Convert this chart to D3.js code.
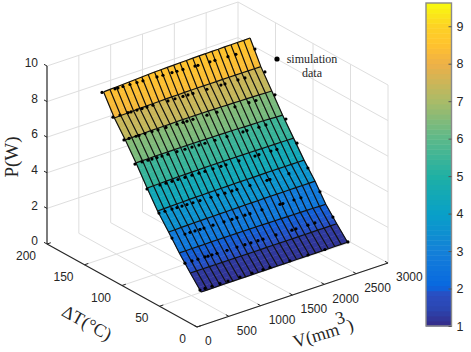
<!DOCTYPE html>
<html>
<head>
<meta charset="utf-8">
<script src="https://cdn.jsdelivr.net/npm/d3@7"></script>
<style>
  html, body { margin: 0; background: #fff; }
  svg { display: block; }
  text { font-family: "Liberation Sans", Arial, sans-serif; font-size: 12px; fill: #262626; }
  .serif { font-family: "Liberation Serif", "Times New Roman", serif; }
</style>
</head>
<body>
<div id="chart"></div>
<script>
// axis ticks
const vTicks = [0, 500, 1000, 1500, 2000, 2500, 3000];
const dtTicks = [0, 50, 100, 150, 200];
const pTicks = [0, 2, 4, 6, 8, 10];
const barTicks = [1, 2, 3, 4, 5, 6, 7, 8, 9];

// fitted surface: one row of P per dT, one column per V
const gridV = [300, 400, 500, 600, 700, 800, 900, 1000, 1100, 1200, 1300, 1400, 1500, 1600, 1700, 1800, 1900, 2000, 2100, 2200, 2300, 2400, 2500, 2600];
const gridDT = [20, 34.4, 49, 63.3, 78, 92, 106.7, 121, 135.6, 150];
const gridP = [
  [1.14,1.14,1.14,1.15,1.15,1.15,1.15,1.15,1.15,1.16,1.16,1.16,1.16,1.16,1.16,1.17,1.17,1.17,1.17,1.17,1.17,1.18,1.18,1.18],
  [1.87,1.87,1.87,1.87,1.87,1.87,1.87,1.87,1.87,1.87,1.87,1.87,1.87,1.87,1.87,1.87,1.87,1.88,1.88,1.88,1.88,1.88,1.88,1.88],
  [2.66,2.66,2.67,2.67,2.67,2.68,2.68,2.68,2.68,2.68,2.68,2.68,2.68,2.68,2.67,2.67,2.67,2.66,2.66,2.66,2.65,2.65,2.64,2.64],
  [3.50,3.51,3.52,3.53,3.54,3.54,3.55,3.55,3.56,3.56,3.57,3.57,3.58,3.58,3.58,3.59,3.59,3.59,3.59,3.60,3.60,3.60,3.60,3.60],
  [4.34,4.35,4.36,4.37,4.38,4.39,4.40,4.40,4.41,4.41,4.42,4.42,4.43,4.43,4.43,4.43,4.44,4.44,4.44,4.44,4.44,4.44,4.44,4.44],
  [5.30,5.31,5.32,5.33,5.34,5.35,5.35,5.36,5.36,5.37,5.37,5.37,5.37,5.37,5.37,5.37,5.37,5.37,5.36,5.36,5.36,5.36,5.35,5.35],
  [6.37,6.38,6.38,6.39,6.39,6.39,6.40,6.40,6.40,6.40,6.40,6.39,6.39,6.39,6.38,6.38,6.37,6.36,6.35,6.35,6.34,6.33,6.31,6.30],
  [7.33,7.34,7.35,7.36,7.37,7.37,7.38,7.38,7.39,7.39,7.39,7.39,7.39,7.39,7.38,7.38,7.37,7.37,7.36,7.36,7.35,7.34,7.33,7.32],
  [8.22,8.24,8.25,8.27,8.28,8.29,8.30,8.31,8.32,8.33,8.33,8.34,8.34,8.35,8.35,8.35,8.35,8.35,8.35,8.35,8.35,8.35,8.35,8.35],
  [9.35,9.37,9.39,9.41,9.43,9.45,9.47,9.49,9.51,9.52,9.53,9.54,9.55,9.56,9.57,9.58,9.58,9.59,9.59,9.60,9.60,9.61,9.61,9.62]
];

// simulation data, read row by row
const simDT = [150, 137, 123, 108, 92, 76, 59, 41, 21];
const simV = [
  [275,479,526,604,714,824,918,1138,1232,1374,1452,1546,1735,1782,1970,2049,2253,2378,2677],
  [294,404,530,577,671,750,828,922,1158,1268,1393,1472,1550,1770,1990,2053,2257,2367,2681],
  [302,381,491,538,632,742,836,962,1134,1229,1291,1385,1605,1762,2045,2265,2375,2673],
  [298,408,502,565,644,722,816,958,1083,1193,1303,1397,1554,1743,1994,2057,2245,2355,2669],
  [298,502,597,691,785,895,1005,1115,1209,1335,1460,1539,1743,1994,2057,2245,2339,2653],
  [298,392,502,581,659,738,832,942,1115,1225,1334,1444,1523,1727,1994,2041,2339,2637],
  [302,506,585,663,742,805,946,1119,1244,1323,1448,1527,1715,1998,2045,2218,2328,2626],
  [294,404,498,608,655,718,797,954,1111,1236,1330,1440,1519,1723,1974,2037,2225,2335,2618],
  [294,373,483,608,734,922,1111,1284,1393,1707,1990,2257,2618]
];
const simP = [
  [9.35,9.31,9.30,9.29,9.27,9.25,9.23,9.19,9.17,9.15,9.13,9.12,9.08,9.07,9.04,9.03,8.99,8.97,8.91],
  [8.24,8.23,8.21,8.20,8.19,8.18,8.17,8.16,8.12,8.11,8.09,8.08,8.07,8.04,8.01,8.00,7.98,7.96,7.92],
  [7.28,7.27,7.26,7.25,7.24,7.22,7.21,7.19,7.17,7.16,7.15,7.14,7.11,7.09,7.05,7.02,7.01,6.97],
  [6.28,6.27,6.25,6.24,6.23,6.22,6.21,6.19,6.17,6.16,6.14,6.13,6.11,6.09,6.05,6.05,6.02,6.01,5.97],
  [5.25,5.23,5.22,5.21,5.20,5.19,5.18,5.16,5.15,5.14,5.13,5.12,5.10,5.07,5.07,5.05,5.03,5.00],
  [4.27,4.26,4.25,4.24,4.23,4.22,4.21,4.20,4.18,4.17,4.15,4.14,4.13,4.11,4.08,4.07,4.04,4.00],
  [3.26,3.24,3.24,3.23,3.22,3.22,3.21,3.19,3.18,3.18,3.17,3.16,3.15,3.12,3.11,3.10,3.09,3.07],
  [2.28,2.27,2.26,2.25,2.24,2.24,2.23,2.21,2.20,2.19,2.18,2.17,2.16,2.15,2.12,2.12,2.10,2.09,2.08],
  [1.23,1.23,1.22,1.22,1.21,1.21,1.20,1.20,1.19,1.18,1.17,1.16,1.15]
];

// colormap as it shows on the colour bar
const cmapValues = [1, 1.5, 1.85, 2.05, 3, 4, 5, 6, 7, 8, 8.5, 9, 9.62];
const cmapColors = ["#352a87", "#2a48b4", "#2c4cc0", "#0868e0", "#1480d8", "#08a0c8", "#1fb0a4", "#5cb98a", "#a9bb68", "#eeb048", "#ffc22e", "#fdd225", "#f9fb0e"];

const width = 471, height = 352;
const svg = d3.select("#chart").append("svg").attr("width", width).attr("height", height);

// oblique box: each data axis adds its own screen offset to the V=0,dT=0,P=0 corner
const origin = [197, 327];
const vx = d3.scaleLinear().domain([0, 3000]).range([0, 191]);
const vy = d3.scaleLinear().domain([0, 3000]).range([0, -64]);
const tx = d3.scaleLinear().domain([0, 200]).range([0, -150]);
const ty = d3.scaleLinear().domain([0, 200]).range([0, -83]);
const py = d3.scaleLinear().domain([0, 10]).range([0, -178]);
const project = (v, t, p) => [origin[0] + vx(v) + tx(t), origin[1] + vy(v) + ty(t) + py(p)];
const color = d3.scaleLinear().domain(cmapValues).range(cmapColors);

function seg(g, a, b, stroke, w) {
  g.append("line")
    .attr("x1", a[0]).attr("y1", a[1]).attr("x2", b[0]).attr("y2", b[1])
    .attr("stroke", stroke).attr("stroke-width", w);
}

// grid on the two walls and the floor
const gGrid = svg.append("g");
const gridCol = "#dedede";
for (const v of vTicks.slice(1)) {
  seg(gGrid, project(v, 200, 0), project(v, 200, 10), gridCol, 1);
  seg(gGrid, project(v, 0, 0), project(v, 200, 0), gridCol, 1);
}
for (const t of dtTicks.slice(0, -1)) {
  seg(gGrid, project(3000, t, 0), project(3000, t, 10), gridCol, 1);
  seg(gGrid, project(0, t, 0), project(3000, t, 0), gridCol, 1);
}
for (const p of pTicks.slice(1)) {
  seg(gGrid, project(0, 200, p), project(3000, 200, p), gridCol, 1);
  seg(gGrid, project(3000, 200, p), project(3000, 0, p), gridCol, 1);
}

// box axes
const gAxes = svg.append("g");
const axisCol = "#262626";
seg(gAxes, project(0, 200, 0), project(0, 200, 10), axisCol, 1.2);
seg(gAxes, project(0, 0, 0), project(0, 200, 0), axisCol, 1.2);
seg(gAxes, project(0, 0, 0), project(3000, 0, 0), axisCol, 1.2);

pTicks.forEach(p => {
  const a = project(0, 200, p);
  seg(gAxes, a, project(0, 204, p), axisCol, 1);
  gAxes.append("text").attr("x", a[0] - 9).attr("y", a[1] - 3).attr("dy", "0.35em")
    .attr("text-anchor", "end").text(p);
});
dtTicks.forEach(t => {
  const a = project(0, t, 0);
  seg(gAxes, a, project(60, t, 0), axisCol, 1);
  gAxes.append("text").attr("x", a[0] - 11).attr("y", a[1] + 12).attr("dy", "0.35em")
    .attr("text-anchor", "end").text(t);
});
vTicks.forEach(v => {
  const a = project(v, 0, 0);
  seg(gAxes, a, project(v, 4, 0), axisCol, 1);
  gAxes.append("text").attr("x", a[0] + 8).attr("y", a[1] + 14).attr("dy", "0.35em")
    .attr("text-anchor", "start").text(v);
});

// surface fill: the facet colour follows its lower edge, with only a slight run towards the next row
const gFill = svg.append("g");
const strips = d3.range(4);
gridDT.slice(0, -1).forEach((t0, r) => {
  const t1 = gridDT[r + 1];
  gridV.slice(0, -1).forEach((v0, c) => {
    const v1 = gridV[c + 1];
    strips.forEach(s => {
      const f0 = s / strips.length, f1 = (s + 1) / strips.length;
      const ta = t0 + (t1 - t0) * f0, tb = t0 + (t1 - t0) * f1;
      const pa0 = gridP[r][c] + (gridP[r + 1][c] - gridP[r][c]) * f0;
      const pa1 = gridP[r][c + 1] + (gridP[r + 1][c + 1] - gridP[r][c + 1]) * f0;
      const pb0 = gridP[r][c] + (gridP[r + 1][c] - gridP[r][c]) * f1;
      const pb1 = gridP[r][c + 1] + (gridP[r + 1][c + 1] - gridP[r][c + 1]) * f1;
      const lower = (gridP[r][c] + gridP[r][c + 1]) / 2;
      const upper = (gridP[r + 1][c] + gridP[r + 1][c + 1]) / 2;
      const fill = color(lower + (upper - lower) * 0.2 * f0);
      gFill.append("polygon")
        .attr("points", [project(v0, ta, pa0), project(v1, ta, pa1), project(v1, tb, pb1), project(v0, tb, pb0)].join(" "))
        .attr("fill", fill).attr("stroke", fill).attr("stroke-width", 0.5);
    });
  });
});

// mesh lines
const gMesh = svg.append("g").attr("fill", "none").attr("stroke", "#111").attr("stroke-width", 1.2);
const line = d3.line();
gridDT.forEach((t, r) => {
  gMesh.append("path").attr("d", line(gridV.map((v, c) => project(v, t, gridP[r][c]))));
});
gridV.forEach((v, c) => {
  gMesh.append("path").attr("d", line(gridDT.map((t, r) => project(v, t, gridP[r][c]))));
});

// simulation points
const simPoints = simDT.flatMap((t, r) => simV[r].map((v, i) => project(v, t, simP[r][i])));
svg.append("g").selectAll("circle").data(simPoints).join("circle")
  .attr("cx", d => d[0]).attr("cy", d => d[1]).attr("r", 1.6).attr("fill", "#000");

// legend note
svg.append("circle").attr("cx", 277).attr("cy", 59).attr("r", 2.6).attr("fill", "#000");
svg.append("text").attr("class", "serif").attr("x", 312).attr("y", 63).attr("text-anchor", "middle").text("simulation");
svg.append("text").attr("class", "serif").attr("x", 312).attr("y", 77).attr("text-anchor", "middle").text("data");

// axis titles
svg.append("text").attr("class", "serif").style("font-size", "19px")
  .attr("transform", "translate(18,157) rotate(-90)").attr("text-anchor", "middle").text("P(W)");
svg.append("text").attr("class", "serif").style("font-size", "18px")
  .attr("transform", "translate(84,328) rotate(29)").attr("text-anchor", "middle").text("ΔT(°C)");
const vTitle = svg.append("text").attr("class", "serif").style("font-size", "18px")
  .attr("transform", "translate(325,339) rotate(-17)").attr("text-anchor", "middle");
vTitle.append("tspan").text("V(mm");
vTitle.append("tspan").attr("dy", -10).text("3");
vTitle.append("tspan").attr("dy", 10).text(")");

// colour bar
const barLeft = 426, barWidth = 25.5;
const barY = d3.scaleLinear().domain([1, 9.62]).range([326, 3]);
const steps = d3.range(64).map(i => 1 + (9.62 - 1) * i / 64);
svg.append("g").selectAll("rect").data(steps).join("rect")
  .attr("x", barLeft).attr("width", barWidth)
  .attr("y", d => barY(d + (9.62 - 1) / 64))
  .attr("height", d => barY(d) - barY(d + (9.62 - 1) / 64) + 0.5)
  .attr("fill", d => color(d + (9.62 - 1) / 128));
svg.append("rect").attr("x", barLeft).attr("y", 3).attr("width", barWidth).attr("height", 323)
  .attr("fill", "none").attr("stroke", "#8a8a8a").attr("stroke-width", 1.4);
const barAxis = svg.append("g").attr("transform", `translate(${barLeft + barWidth},0)`)
  .call(d3.axisRight(barY).tickValues(barTicks).tickSize(-3).tickPadding(5));
barAxis.select(".domain").remove();
barAxis.selectAll("line").attr("stroke", "#555");
barAxis.selectAll("text").style("font-size", "12.5px").attr("fill", "#262626");
</script>
</body>
</html>
